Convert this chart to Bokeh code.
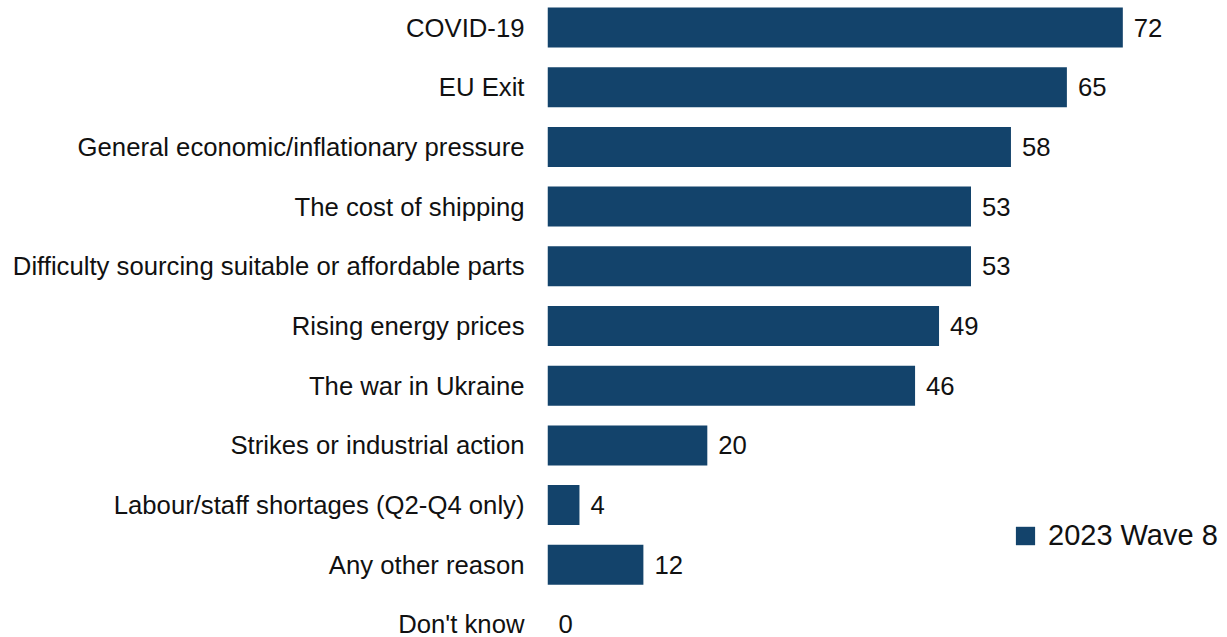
from bokeh.plotting import figure
from bokeh.models import ColumnDataSource, Range1d, Legend, LegendItem
from bokeh.core.properties import value
from bokeh.embed import file_html
from bokeh.resources import INLINE

categories = [
    "COVID-19",
    "EU Exit",
    "General economic/inflationary pressure",
    "The cost of shipping",
    "Difficulty sourcing suitable or affordable parts",
    "Rising energy prices",
    "The war in Ukraine",
    "Strikes or industrial action",
    "Labour/staff shortages (Q2-Q4 only)",
    "Any other reason",
    "Don't know",
]
values = [72, 65, 58, 53, 53, 49, 46, 20, 4, 12, 0]
series_name = "2023 Wave 8"
bar_color = "#13436B"
FONT = "Liberation Sans"

ypos = list(range(len(categories)))
src = ColumnDataSource(dict(y=ypos, v=values, lbl=[str(x) for x in values]))

p = figure(width=1227, height=637, output_backend="svg", toolbar_location=None,
           x_range=Range1d(0, 85.1), y_range=Range1d(10.218, -0.4523),
           min_border_left=547, min_border_right=0, min_border_top=0, min_border_bottom=0)
p.outline_line_color = None
p.xgrid.visible = False
p.ygrid.visible = False
p.xaxis.visible = False

r = p.hbar(y="y", right="v", left=0, height=0.67, fill_color=bar_color,
           line_color=None, source=src)
p.text(x="v", y="y", text="lbl", source=src, x_offset=11, text_baseline="middle",
       text_font=value(FONT), text_font_size="25.7px", text_color="#111111")

ya = p.yaxis[0]
ya.ticker = ypos
ya.major_label_overrides = {i: c for i, c in enumerate(categories)}
ya.axis_line_color = None
ya.major_tick_line_color = None
ya.minor_tick_line_color = None
ya.major_tick_out = 0
ya.major_tick_in = 0
ya.major_label_standoff = 23
ya.major_label_text_font = FONT
ya.major_label_text_font_size = "25.7px"
ya.major_label_text_color = "#111111"

legend = Legend(items=[LegendItem(label=series_name, renderers=[r])],
                location=(466, 85), padding=0, margin=0, border_line_color=None,
                background_fill_alpha=0, glyph_width=24, glyph_height=23,
                label_standoff=11, label_text_font=FONT, label_text_font_size="29px",
                label_text_color="#111111")
p.add_layout(legend, "center")

open("out.html", "w").write(file_html(p, INLINE))
